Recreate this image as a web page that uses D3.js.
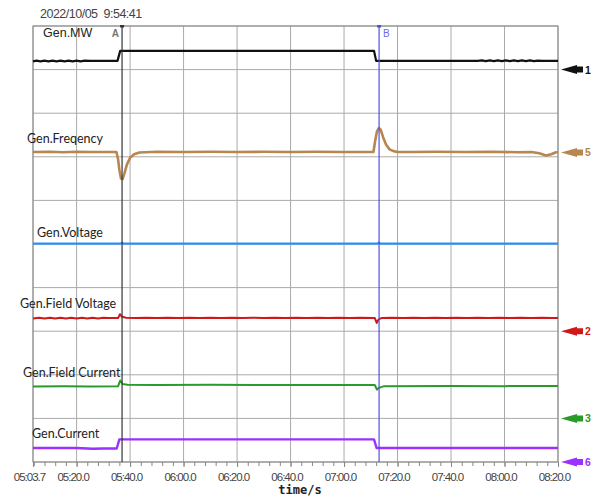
<!DOCTYPE html>
<html><head><meta charset="utf-8">
<script src="https://cdn.jsdelivr.net/npm/d3@7"></script>
<style>
html,body{margin:0;padding:0;background:#fff;}
svg{display:block;}
</style></head>
<body>
<svg id="chart" width="591" height="500"></svg>
<script>
// ---- DATA (time in seconds, values in chart divisions 0..10) ----
const timestamp = "2022/10/05  9:54:41";
const xTickValues = [303.7, 320, 340, 360, 380, 400, 420, 440, 460, 480, 500];
const xTickLabels = ["05:03.7","05:20.0","05:40.0","06:00.0","06:20.0","06:40.0","07:00.0","07:20.0","07:40.0","08:00.0","08:20.0"];
const cursorA = 337.0;
const cursorB = 433.1;

const mwT = [303.7,305,306.5,308,309.5,311,312.5,314,315.5,317,318.5,320,321.5,323,325,330,335.3,336.3,360,400,431.2,432.0,460,470,471.5,473,474.5,476,477.5,479,480.5,482,483.5,485,486.5,488,489.5,491,492.5,494,500];
const mwV = [9.19,9.205,9.19,9.205,9.19,9.205,9.19,9.205,9.19,9.205,9.19,9.205,9.19,9.205,9.20,9.20,9.20,9.43,9.43,9.43,9.43,9.20,9.20,9.20,9.21,9.195,9.21,9.195,9.21,9.195,9.21,9.195,9.21,9.195,9.21,9.195,9.21,9.195,9.205,9.20,9.20];

const frT = [303.7,310,315,320,325,330,334.9,335.5,336.0,336.6,337.2,337.9,338.8,340,341.5,343.5,350,360,370,380,390,400,410,420,431.0,431.6,432.3,433.0,433.7,434.6,435.7,437,438.5,440,445,455,465,475,485,490,493,495.5,497.5,499,500];
const frV = [7.11,7.115,7.105,7.115,7.11,7.11,7.11,6.95,6.70,6.50,6.49,6.62,6.82,6.98,7.06,7.10,7.115,7.11,7.115,7.11,7.115,7.11,7.115,7.11,7.11,7.35,7.58,7.66,7.62,7.45,7.28,7.17,7.13,7.11,7.11,7.115,7.11,7.115,7.105,7.11,7.08,7.03,7.06,7.10,7.11];

const gvT = [303.7,336.5,337,337.5,432.5,433,433.6,500];
const gvV = [5.01,5.01,5.03,5.01,5.01,5.03,5.01,5.01];

const fvT = [303.7,306,308,310,312,314,316,318,320,322,324,326,328,330,332,335.5,336.2,337,338.5,342,346,350,354,358,362,366,370,374,378,382,386,390,394,398,402,406,410,414,418,422,426,431.5,432.2,432.9,434,438,442,446,450,454,458,462,466,470,474,478,482,486,490,494,498,500];
const fvV = [3.29,3.31,3.29,3.31,3.29,3.31,3.29,3.31,3.29,3.31,3.29,3.31,3.29,3.31,3.30,3.30,3.39,3.33,3.31,3.30,3.31,3.30,3.31,3.30,3.31,3.30,3.31,3.30,3.31,3.30,3.31,3.30,3.31,3.30,3.31,3.30,3.31,3.30,3.31,3.30,3.31,3.30,3.19,3.27,3.30,3.31,3.30,3.31,3.30,3.31,3.30,3.31,3.30,3.31,3.30,3.31,3.30,3.31,3.30,3.31,3.30,3.30];

const fcT = [303.7,315,325,335.5,336.3,337.2,339,350,370,400,431.5,432.3,433,435,460,480,500];
const fcV = [1.73,1.735,1.73,1.735,1.87,1.79,1.77,1.765,1.77,1.765,1.765,1.66,1.70,1.74,1.745,1.74,1.745];

const gcT = [303.7,320,326,330,335.0,336.0,431.2,432.2,500];
const gcV = [0.32,0.32,0.305,0.31,0.31,0.52,0.52,0.32,0.32];

const seriesNames = ["Gen.MW","Gen.Freqency","Gen.Voltage","Gen.Field Voltage","Gen.Field Current","Gen.Current"];
const seriesColors = ["#111111","#b8864f","#2f8fee","#d01818","#2a9a2a","#9b30ff"];
const markerIds = ["1","5","2","3","6"];
const markerLevels = [9, 7.1, 3, 1, 0];
const markerColors = ["#111111","#b8864f","#d01818","#2a9a2a","#9b30ff"];

// ---- LAYOUT ----
const svg = d3.select("#chart");
const L = 33, R = 558, T = 26, B = 462;
const x = d3.scaleLinear().domain([303.7, 500]).range([L, R]);
const y = d3.scaleLinear().domain([0, 10]).range([B, T]);

// grid
const grid = svg.append("g");
grid.selectAll("line.h").data(d3.range(0, 11)).join("line")
  .attr("x1", L).attr("x2", R).attr("y1", d => y(d)).attr("y2", d => y(d))
  .attr("stroke", "#aaaaaa").attr("stroke-width", 1);
grid.selectAll("line.v").data(xTickValues).join("line")
  .attr("x1", d => x(d)).attr("x2", d => x(d)).attr("y1", T).attr("y2", B)
  .attr("stroke", "#aaaaaa").attr("stroke-width", 1);
svg.append("rect").attr("x", L).attr("y", T).attr("width", R - L).attr("height", B - T)
  .attr("fill", "none").attr("stroke", "#888").attr("stroke-width", 1);

// axis
const minor = d3.axisBottom(x).tickValues(d3.range(304, 501, 4)).tickSize(4).tickFormat("");
const gMinor = svg.append("g").attr("transform", `translate(0,${B})`).call(minor);
gMinor.select(".domain").remove();
gMinor.selectAll("line").attr("stroke", "#888");
const major = d3.axisBottom(x).tickValues(xTickValues).tickSize(5)
  .tickFormat((d, i) => xTickLabels[i]);
const gMajor = svg.append("g").attr("transform", `translate(0,${B})`).call(major);
gMajor.select(".domain").remove();
gMajor.selectAll("line").attr("stroke", "#888");
gMajor.selectAll("text").attr("y", 11).attr("dx", -4)
  .attr("font-family", "Liberation Sans, Arial, sans-serif").attr("font-size", 11.5)
  .attr("letter-spacing", -1).attr("fill", "#444");

svg.append("text").attr("x", 300).attr("y", 494).attr("text-anchor", "middle")
  .attr("font-family", "DejaVu Sans Mono, monospace").attr("font-weight", "bold")
  .attr("font-size", 12).attr("fill", "#222").text("time/s");

svg.append("text").attr("x", 40).attr("y", 18).style("white-space", "pre")
  .attr("font-family", "Liberation Sans, Arial, sans-serif").attr("font-size", 12.5)
  .attr("letter-spacing", -0.5).attr("fill", "#444").text(timestamp);

// series
const line = d3.line().x(d => x(d[0])).y(d => y(d[1]));
const allSeries = [[mwT, mwV], [frT, frV], [gvT, gvV], [fvT, fvV], [fcT, fcV], [gcT, gcV]];
const widths = [2.2, 2.6, 2.2, 2, 2, 2.4];
allSeries.forEach((s, i) => {
  const pts = s[0].map((t, j) => [t, s[1][j]]);
  svg.append("path").datum(pts).attr("d", line).attr("fill", "none")
    .attr("stroke", seriesColors[i]).attr("stroke-width", widths[i])
    .attr("stroke-linejoin", "round");
});

// cursors
svg.append("line").attr("x1", x(cursorA)).attr("x2", x(cursorA)).attr("y1", T).attr("y2", B)
  .attr("stroke", "#333").attr("stroke-width", 1.2);
svg.append("line").attr("x1", x(cursorB)).attr("x2", x(cursorB)).attr("y1", T).attr("y2", B)
  .attr("stroke", "#5050e0").attr("stroke-width", 1.2);
svg.append("rect").attr("x", x(cursorA) - 2).attr("y", T - 1).attr("width", 4).attr("height", 2.5).attr("fill", "#333");
svg.append("rect").attr("x", x(cursorB) - 2).attr("y", T - 1).attr("width", 4).attr("height", 2.5).attr("fill", "#5050e0");
svg.append("text").attr("x", x(cursorA) - 3).attr("y", 37).attr("text-anchor", "end")
  .attr("font-family", "Liberation Sans, Arial, sans-serif").attr("font-size", 10).attr("font-weight", "bold")
  .attr("fill", "#777").text("A");
svg.append("text").attr("x", x(cursorB) + 4).attr("y", 37)
  .attr("font-family", "Liberation Sans, Arial, sans-serif").attr("font-size", 10)
  .attr("fill", "#6a6aee").text("B");

// series labels
const labelPos = [[43, 37, "Liberation Sans, Arial, sans-serif", 12.5],
  [27, 143, "Lato, sans-serif", 12.5], [37, 237, "Lato, sans-serif", 12.5],
  [20, 308, "Lato, sans-serif", 12.5], [23, 377, "Lato, sans-serif", 12.5],
  [32, 438, "Lato, sans-serif", 12.5]];
seriesNames.forEach((n, i) => {
  svg.append("text").attr("x", labelPos[i][0]).attr("y", labelPos[i][1])
    .attr("font-family", labelPos[i][2]).attr("font-size", labelPos[i][3])
    .attr("fill", "#222").text(n);
});

// right markers
markerIds.forEach((id, i) => {
  const yy = y(markerLevels[i]);
  svg.append("path").attr("d", `M561,${yy} L577,${yy - 4.5} L577,${yy - 3} L583,${yy - 3} L583,${yy + 3} L577,${yy + 3} L577,${yy + 4.5} Z`)
    .attr("fill", markerColors[i]);
  svg.append("text").attr("x", 585).attr("y", yy + 4)
    .attr("font-family", "Liberation Sans, Arial, sans-serif").attr("font-size", 10.5).attr("font-weight", "bold")
    .attr("fill", markerColors[i]).text(id);
});
</script>
</body></html>
